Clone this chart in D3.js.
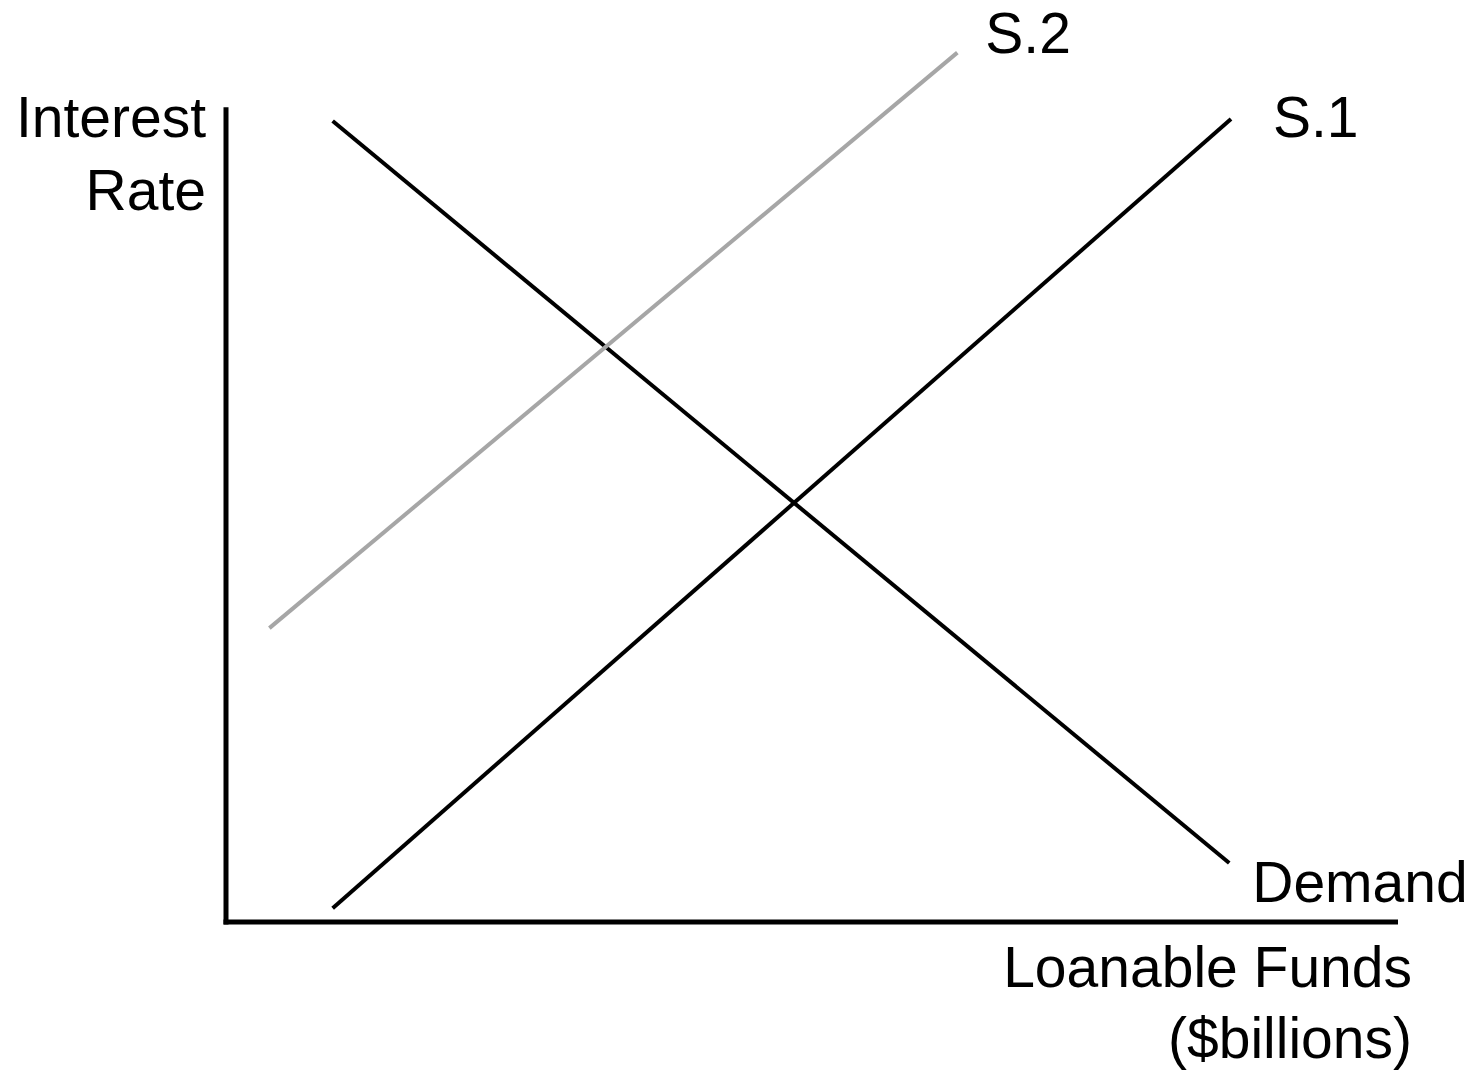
<!DOCTYPE html>
<html>
<head>
<meta charset="utf-8">
<script src="https://cdn.jsdelivr.net/npm/d3@7"></script>
<style>
  body { margin: 0; background: #fff; }
  svg text { font-family: "Liberation Sans", Arial, sans-serif; font-size: 57px; fill: #000; }
</style>
</head>
<body>
<svg id="chart" width="1471" height="1073"></svg>
<script>
// curve endpoints, in chart units (0-100 on both axes)
const curveNames = ["Demand", "S.1", "S.2"];
const curveX = [[9.1, 85.6], [9.1, 85.75], [3.7, 62.4]];
const curveY = [[98.4, 7.25], [1.7, 98.65], [36.1, 106.8]];
const curveColors = ["#000000", "#000000", "#a6a6a6"];

const yLabelLines = ["Interest", "Rate"];
const xLabelLines = ["Loanable Funds", "($billions)"];

const svg = d3.select("#chart");
const width = 1471;
const height = 1073;

const x = d3.scaleLinear().domain([0, 100]).range([226, 1398]);
const y = d3.scaleLinear().domain([0, 100]).range([922, 108]);

// axes: just the two plain lines, no ticks
svg.append("line")
  .attr("x1", x(0)).attr("y1", y(100.1))
  .attr("x2", x(0)).attr("y2", y(0) + 2.5)
  .attr("stroke", "#000").attr("stroke-width", 5);

svg.append("line")
  .attr("x1", x(0) - 2.5).attr("y1", y(0))
  .attr("x2", x(100)).attr("y2", y(0))
  .attr("stroke", "#000").attr("stroke-width", 5);

const curves = curveNames.map((name, i) => ({
  name,
  color: curveColors[i],
  pts: curveX[i].map((v, j) => [v, curveY[i][j]])
}));

const line = d3.line().x(d => x(d[0])).y(d => y(d[1]));

svg.selectAll(".curve")
  .data(curves)
  .enter()
  .append("path")
  .attr("class", "curve")
  .attr("d", d => line(d.pts))
  .attr("fill", "none")
  .attr("stroke", d => d.color)
  .attr("stroke-width", 4);

// label offsets from the end of each curve
const labelOffset = {
  "Demand": [23, 39],
  "S.1": [42, 18],
  "S.2": [28, 0]
};

svg.selectAll(".curve-label")
  .data(curves)
  .enter()
  .append("text")
  .attr("class", "curve-label")
  .attr("x", d => {
    const end = d.pts[1];
    return x(end[0]) + labelOffset[d.name][0];
  })
  .attr("y", d => {
    const end = d.pts[1];
    return y(end[1]) + labelOffset[d.name][1];
  })
  .text(d => d.name);

// axis titles
svg.append("text")
  .attr("text-anchor", "end")
  .selectAll("tspan")
  .data(yLabelLines)
  .enter()
  .append("tspan")
  .attr("x", 206)
  .attr("y", (d, i) => 137 + i * 73)
  .text(d => d);

svg.append("text")
  .attr("text-anchor", "end")
  .selectAll("tspan")
  .data(xLabelLines)
  .enter()
  .append("tspan")
  .attr("x", 1412)
  .attr("y", (d, i) => 987 + i * 71)
  .text(d => d);
</script>
</body>
</html>
